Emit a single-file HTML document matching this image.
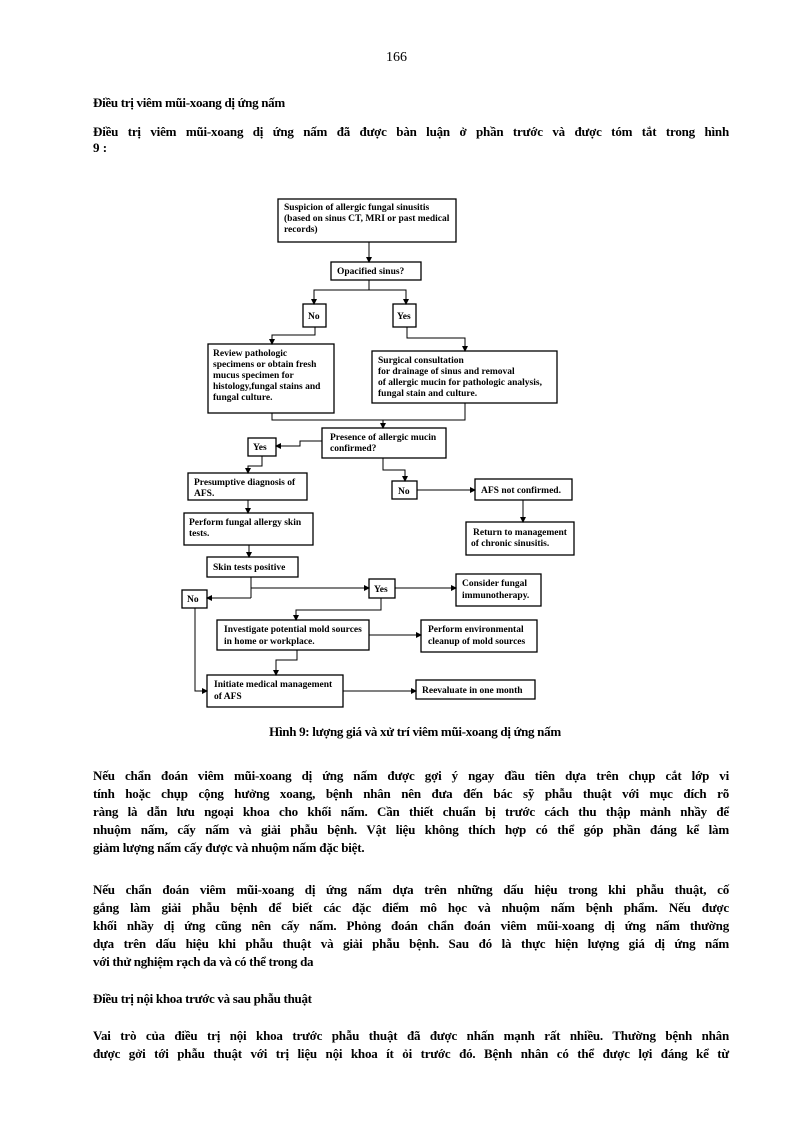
<!DOCTYPE html>
<html><head><meta charset="utf-8"><style>
html,body{margin:0;padding:0;background:#fff}
body{width:794px;height:1122px;position:relative;overflow:hidden;font-family:"Liberation Serif","DejaVu Serif",serif;color:#000}
.t{position:absolute;font-weight:bold;font-size:13px;line-height:18px;white-space:nowrap}
.j{position:absolute;left:93px;width:636px;font-weight:bold;font-size:13px;line-height:18px;text-align:justify;text-align-last:justify;white-space:nowrap;letter-spacing:-0.2px}
svg text{font-family:"Liberation Serif",serif;font-weight:bold;font-size:9.5px}
</style></head><body>
<div class="t" style="left:386px;top:49px;font-weight:normal;font-size:14px">166</div>
<div class="t" style="left:93px;top:94px;letter-spacing:-0.3px">Điều trị viêm mũi-xoang dị ứng nấm</div>
<div class="j" style="top:123px">Điều trị viêm mũi-xoang dị ứng nấm đã được bàn luận ở phần trước và được tóm tắt trong hình</div>
<div class="t" style="left:93px;top:139px">9 :</div>

<svg style="position:absolute;left:0;top:0" width="794" height="720" viewBox="0 0 794 720">
<defs><marker id="a" markerWidth="6" markerHeight="6" refX="5" refY="3" orient="auto" markerUnits="userSpaceOnUse"><path d="M0,0 L6,3 L0,6z" fill="#000"/></marker></defs>
<g fill="none" stroke="#000" stroke-width="1.3">
<rect x="278" y="199" width="178" height="43"/>
<rect x="331" y="262" width="90" height="18"/>
<rect x="303" y="304" width="23" height="23"/>
<rect x="393" y="304" width="23" height="23"/>
<rect x="208" y="344" width="126" height="69"/>
<rect x="372" y="351" width="185" height="52"/>
<rect x="322" y="428" width="124" height="30"/>
<rect x="248" y="438" width="28" height="18"/>
<rect x="188" y="473" width="119" height="27"/>
<rect x="392" y="481" width="25" height="18"/>
<rect x="475" y="479" width="97" height="21"/>
<rect x="184" y="513" width="129" height="32"/>
<rect x="466" y="522" width="108" height="33"/>
<rect x="207" y="557" width="91" height="20"/>
<rect x="182" y="590" width="25" height="18"/>
<rect x="369" y="579" width="26" height="19"/>
<rect x="456" y="574" width="85" height="32"/>
<rect x="217" y="620" width="152" height="30"/>
<rect x="421" y="620" width="116" height="32"/>
<rect x="207" y="675" width="136" height="32"/>
<rect x="416" y="680" width="119" height="19"/>
</g>
<g fill="none" stroke="#000" stroke-width="1" marker-end="url(#a)">
<path d="M369 242 V262"/>
<path d="M369 280 V290 H314 V304"/>
<path d="M369 290 H406 V304"/>
<path d="M315 327 V335 H272 V344"/>
<path d="M407 327 V338 H465 V351"/>
<path d="M383 420 V428"/>
<path d="M322 441 H300 V446 H276"/>
<path d="M262 456 V466 H248 V473"/>
<path d="M383 458 V470 H405 V481"/>
<path d="M417 490 H475"/>
<path d="M523 500 V522"/>
<path d="M248 500 V513"/>
<path d="M249 545 V557"/>
<path d="M251 588 H369"/>
<path d="M251 598 H207"/>
<path d="M395 588 H456"/>
<path d="M381 598 V610 H296 V620"/>
<path d="M195 608 V691 H207"/>
<path d="M297 650 V660 H276 V675"/>
<path d="M369 635 H421"/>
<path d="M343 691 H416"/>
</g>
<g fill="none" stroke="#000" stroke-width="1">
<path d="M272 413 V420 H465 V403"/>
<path d="M251 577 V598"/>
</g>
<g>
<text x="284" y="210">Suspicion of allergic fungal sinusitis</text>
<text x="284" y="221">(based on sinus CT, MRI or past medical</text>
<text x="284" y="232">records)</text>
<text x="337" y="274">Opacified sinus?</text>
<text x="308" y="319">No</text>
<text x="397" y="319">Yes</text>
<text x="213" y="356">Review pathologic</text>
<text x="213" y="367">specimens or obtain fresh</text>
<text x="213" y="378">mucus specimen for</text>
<text x="213" y="389">histology,fungal stains and</text>
<text x="213" y="400">fungal culture.</text>
<text x="378" y="363">Surgical consultation</text>
<text x="378" y="374">for drainage of sinus and removal</text>
<text x="378" y="385">of allergic mucin for pathologic analysis,</text>
<text x="378" y="396">fungal stain and culture.</text>
<text x="330" y="440">Presence of allergic mucin</text>
<text x="330" y="451">confirmed?</text>
<text x="253" y="450">Yes</text>
<text x="194" y="485">Presumptive diagnosis of</text>
<text x="194" y="496">AFS.</text>
<text x="398" y="494">No</text>
<text x="481" y="493">AFS not confirmed.</text>
<text x="189" y="525">Perform fungal allergy skin</text>
<text x="189" y="536">tests.</text>
<text x="473" y="535">Return to  management</text>
<text x="471" y="546">of chronic sinusitis.</text>
<text x="213" y="570">Skin tests positive</text>
<text x="187" y="602">No</text>
<text x="374" y="592">Yes</text>
<text x="462" y="586">Consider fungal</text>
<text x="462" y="598">immunotherapy.</text>
<text x="224" y="632">Investigate potential mold sources</text>
<text x="224" y="644">in home or workplace.</text>
<text x="428" y="632">Perform environmental</text>
<text x="428" y="644">cleanup of mold sources</text>
<text x="214" y="687">Initiate medical management</text>
<text x="214" y="699">of AFS</text>
<text x="422" y="693">Reevaluate in one month</text>
</g>
</svg>

<div class="t" style="left:0;width:830px;text-align:center;top:723px;letter-spacing:-0.3px">Hình 9: lượng giá và xử trí viêm mũi-xoang dị ứng nấm</div>

<div class="j" style="top:767px">Nếu chẩn đoán viêm mũi-xoang dị ứng nấm được gợi ý ngay đầu tiên dựa trên chụp cắt lớp vi</div>
<div class="j" style="top:785px">tính hoặc chụp cộng hưởng xoang, bệnh nhân nên đưa đến bác sỹ phẫu thuật với mục đích rõ</div>
<div class="j" style="top:803px">ràng là dẫn lưu ngoại khoa cho khối nấm. Cần thiết chuẩn bị trước cách  thu thập mảnh nhầy để</div>
<div class="j" style="top:821px">nhuộm nấm, cấy nấm và giải phẫu bệnh. Vật liệu không thích hợp có thể góp phần đáng kể làm</div>
<div class="t" style="left:93px;top:839px;letter-spacing:-0.2px">giảm lượng nấm cấy được và nhuộm nấm đặc biệt.</div>

<div class="j" style="top:881px">Nếu chẩn đoán viêm mũi-xoang dị ứng nấm dựa trên những dấu hiệu trong khi phẫu thuật, cố</div>
<div class="j" style="top:899px">gắng làm giải phẫu bệnh để biết các đặc điểm mô học và nhuộm nấm bệnh phẩm. Nếu được</div>
<div class="j" style="top:917px">khối nhầy dị ứng cũng nên cấy nấm. Phỏng đoán chẩn đoán viêm mũi-xoang dị ứng nấm thường</div>
<div class="j" style="top:935px">dựa trên dấu hiệu khi phẫu thuật và giải phẫu bệnh. Sau đó là thực hiện lượng giá dị ứng nấm</div>
<div class="t" style="left:93px;top:953px;letter-spacing:-0.3px">với thử nghiệm rạch da và có thể trong da</div>

<div class="t" style="left:93px;top:990px;letter-spacing:-0.3px">Điều trị nội khoa trước và sau phẫu thuật</div>

<div class="j" style="top:1027px">Vai trò của điều trị nội khoa trước phẫu thuật đã được nhấn mạnh rất nhiều. Thường bệnh nhân</div>
<div class="j" style="top:1045px">được gởi tới phẫu thuật với trị liệu nội khoa ít ỏi trước đó. Bệnh nhân có thể được lợi đáng kể từ</div>
</body></html>
